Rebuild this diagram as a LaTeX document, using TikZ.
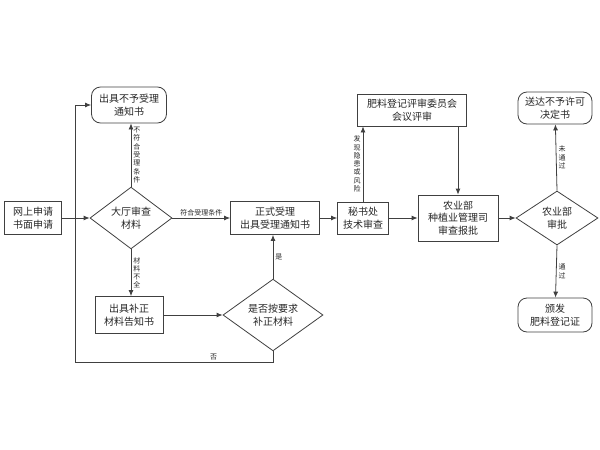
\documentclass[tikz,border=0pt]{standalone}
\usepackage{fontspec}
\setmainfont{Noto Sans CJK SC}
\usetikzlibrary{shapes.geometric,arrows.meta}

\begin{document}
\begin{tikzpicture}[
    x=1pt, y=-1pt,
    every node/.style={font=\fontsize{10}{12.5}\selectfont, text=black!85},
    box/.style={rectangle, draw=black!75, line width=0.8pt, align=center, inner sep=1pt},
    endbox/.style={box, rounded corners=9pt},
    check/.style={diamond, draw=black!75, line width=0.8pt, align=center, inner sep=0pt},
    arrow/.style={-{Latex[length=6pt,width=5pt]}, draw=black!75, line width=0.8pt},
    vlabel/.style={font=\fontsize{7}{8.3}\selectfont, align=center, inner sep=2pt},
    hlabel/.style={font=\fontsize{7}{8.3}\selectfont, inner sep=2pt}
]
\useasboundingbox (0,0) rectangle (600,450);

% Application
\node[box, minimum width=57pt, minimum height=33pt] (apply) at (33, 218) {网上申请\\书面申请};

% Hall check
\node[check, minimum width=82pt, minimum height=57pt] (hall) at (131, 218) {大厅审查\\材料};
\node[endbox, minimum width=75pt, minimum height=36pt] (reject) at (129, 105) {出具不予受理\\通知书};
\node[box, minimum width=68pt, minimum height=37pt] (supp) at (129, 315) {出具补正\\材料告知书};
\node[check, minimum width=100pt, minimum height=56pt] (again) at (273, 315) {是否按要求\\补正材料};

% Acceptance and review
\node[box, minimum width=89pt, minimum height=33pt] (accept) at (275, 218) {正式受理\\出具受理通知书};
\node[box, minimum width=51pt, minimum height=32pt] (sec) at (363, 218) {秘书处\\技术审查};
\node[box, minimum width=109pt, minimum height=32pt] (comm) at (412, 110) {肥料登记评审委员会\\会议评审};
\node[box, minimum width=80pt, minimum height=46pt] (ministry) at (458, 218) {农业部\\种植业管理司\\审查报批};

% Approval
\node[check, minimum width=82pt, minimum height=54pt] (approve) at (557, 218) {农业部\\审批};
\node[endbox, minimum width=74pt, minimum height=32pt] (deny) at (555, 108) {送达不予许可\\决定书};
\node[endbox, minimum width=74pt, minimum height=34pt] (grant) at (555, 315) {颁发\\肥料登记证};

\coordinate (loop) at (75, 362);

% Arrows
\draw[arrow] (apply) -- (hall);
\draw[arrow] (hall.north) -- node[vlabel, right] {不\\符\\合\\受\\理\\条\\件} (hall.north |- reject.south);
\draw[arrow] (hall) -- node[hlabel, above] {符合受理条件} (accept);
\draw[arrow] (hall.south) -- node[vlabel, right] {材\\料\\不\\全} (hall.south |- supp.north);
\draw[arrow] (supp) -- (again);
\draw[arrow] (again.north) -- node[hlabel, right] {是} (again.north |- accept.south);
\draw[arrow] (again.south) |- node[hlabel, above, pos=0.65] {否} (loop) |- (reject.west);
\draw[arrow] (accept) -- (sec);
\draw[arrow] (sec.north) -- node[vlabel, left] {发\\现\\隐\\患\\或\\风\\险} (sec.north |- comm.south);
\draw[arrow] (ministry.north |- comm.south) -- (ministry.north);
\draw[arrow] (sec) -- (ministry);
\draw[arrow] (ministry) -- (approve);
\draw[arrow] (approve.north) -- node[vlabel, right] {未\\通\\过} (deny);
\draw[arrow] (approve.south) -- node[vlabel, right] {通\\过} (grant);

\end{tikzpicture}
\end{document}
